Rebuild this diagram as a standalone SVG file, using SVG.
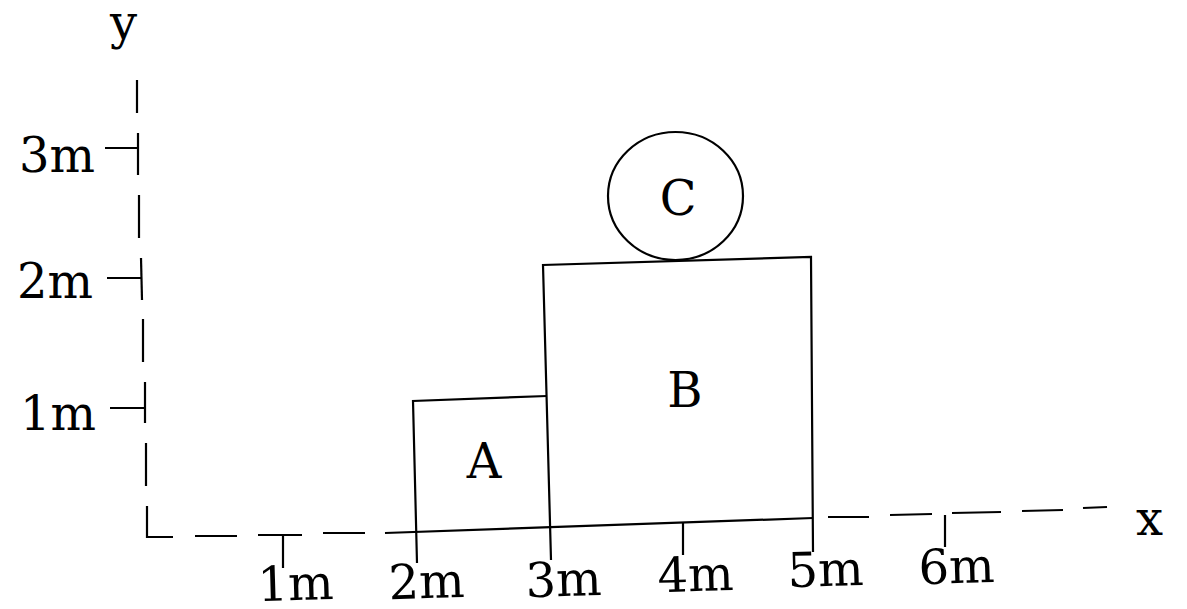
<svg xmlns="http://www.w3.org/2000/svg" width="1187" height="609" viewBox="0 0 1187 609">
<style>
.ln{stroke:#000;stroke-width:2.2;fill:none;stroke-linecap:butt;stroke-linejoin:miter}
.t{font-family:"DejaVu Serif","Liberation Serif",serif;font-size:48px;fill:#000}
.e{text-anchor:end}
.m{text-anchor:middle}
</style>
<rect width="1187" height="609" fill="#fff"/>
<g id="y-axis">
<line class="ln" x1="137" y1="80" x2="137" y2="113"/>
<line class="ln" x1="138" y1="133" x2="138" y2="175"/>
<line class="ln" x1="105" y1="148" x2="138" y2="148"/>
<line class="ln" x1="139" y1="195" x2="139" y2="238"/>
<line class="ln" x1="141" y1="258" x2="142" y2="300"/>
<line class="ln" x1="107" y1="278" x2="141" y2="278"/>
<line class="ln" x1="143" y1="319" x2="143" y2="362"/>
<line class="ln" x1="145" y1="382" x2="145" y2="423"/>
<line class="ln" x1="110" y1="408" x2="145" y2="408"/>
<line class="ln" x1="146" y1="443" x2="146" y2="486"/>
<polyline class="ln" points="147,506 147,537 173,537"/>
<text class="t" x="110" y="39">y</text>
<text class="t e" x="95" y="172">3m</text>
<text class="t e" x="93" y="298">2m</text>
<text class="t e" x="96" y="430">1m</text>
</g>
<g id="x-axis">
<line class="ln" x1="195" y1="536" x2="237" y2="536"/>
<line class="ln" x1="258" y1="535" x2="302" y2="535"/>
<line class="ln" x1="283" y1="535" x2="283" y2="568"/>
<line class="ln" x1="323" y1="533" x2="365" y2="533"/>
<line class="ln" x1="385" y1="533" x2="813" y2="518"/>
<line class="ln" x1="683" y1="523" x2="683" y2="555"/>
<line class="ln" x1="828" y1="517" x2="869" y2="517"/>
<line class="ln" x1="890" y1="515" x2="932" y2="514"/>
<line class="ln" x1="945" y1="515" x2="945" y2="547"/>
<line class="ln" x1="952" y1="513" x2="1001" y2="512"/>
<line class="ln" x1="1022" y1="511" x2="1063" y2="510"/>
<line class="ln" x1="1083" y1="508" x2="1107" y2="507"/>
<text class="t" x="1136" y="535">x</text>
<text class="t e" x="334" y="599" transform="rotate(-1.7 334 599)">1m</text>
<text class="t e" x="465" y="597" transform="rotate(-1.7 465 597)">2m</text>
<text class="t e" x="602" y="595" transform="rotate(-1.7 602 595)">3m</text>
<text class="t e" x="734" y="590" transform="rotate(-1.7 734 590)">4m</text>
<text class="t e" x="864" y="585" transform="rotate(-1.7 864 585)">5m</text>
<text class="t e" x="995" y="582" transform="rotate(-1.7 995 582)">6m</text>
</g>
<g id="block-A">
<polyline class="ln" points="417,563 413,401 547,396"/>
<text class="t m" x="484" y="478">A</text>
</g>
<g id="block-B">
<polyline class="ln" points="551,560 543,265 811,257 813,552"/>
<text class="t m" x="685" y="407">B</text>
</g>
<g id="ball-C">
<ellipse class="ln" cx="675.5" cy="196" rx="67.5" ry="64"/>
<text class="t m" x="678" y="215">C</text>
</g>
</svg>
